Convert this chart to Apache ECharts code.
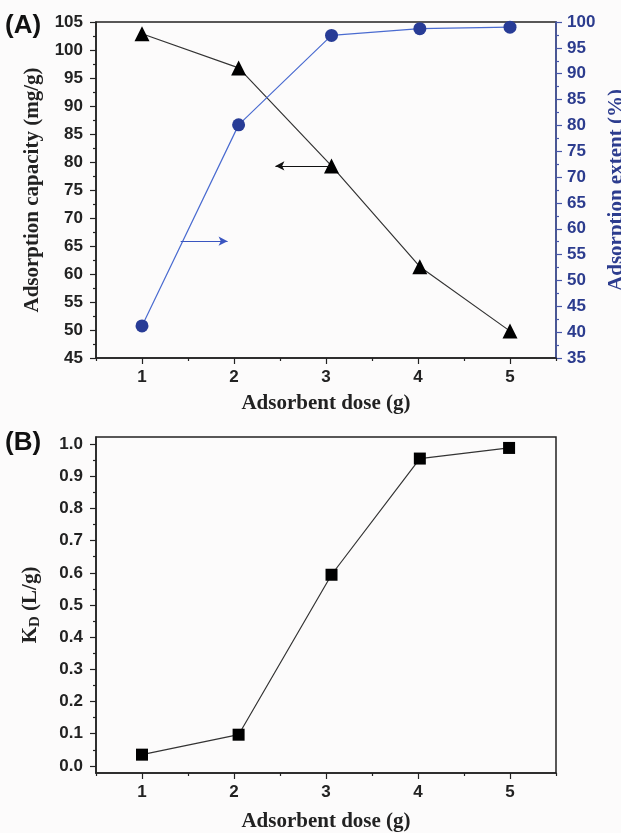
<!DOCTYPE html>
<html lang="en">
<head>
    <meta charset="UTF-8">
    <title>Adsorbent dose</title>
    <script type="text/javascript" src="https://cdn.jsdelivr.net/npm/echarts@6/dist/echarts.min.js"></script>
    <style>
        html, body { margin: 0; padding: 0; background: #fcfbfb; }
    </style>
</head>
<body>
<div id="chart" style="width:621px;height:833px;"></div>
<script type="text/javascript">
    // data
    var doseA = [1, 2.05, 3.06, 4.02, 5];
    var capacity = [102.9, 96.8, 79.3, 61.3, 49.8];
    var extent = [41.2, 80.1, 97.4, 98.7, 99.0];
    var doseB = [1, 2.05, 3.06, 4.02, 4.99];
    var kd = [0.035, 0.097, 0.594, 0.955, 0.988];

    // tick labels
    var doseTicks = [1, 2, 3, 4, 5];
    var doseMinor = [0.5, 1.5, 2.5, 3.5, 4.5, 5.5];
    var kdTicks = [0, 0.1, 0.2, 0.3, 0.4, 0.5, 0.6, 0.7, 0.8, 0.9, 1.0];
    var kdMinor = [0.05, 0.15, 0.25, 0.35, 0.45, 0.55, 0.65, 0.75, 0.85, 0.95];

    // annotation arrows [x0, y0, x1, y1]
    var capArrow = [3.04, 79.3, 2.45, 79.3];
    var extArrow = [1.42, 57.6, 1.93, 57.6];

    var sans = 'Liberation Sans, Arial, sans-serif';
    var serif = 'Liberation Serif, Times New Roman, serif';
    var dark = '#222';
    var navy = '#2c3c8e';

    function pairs(xs, ys) {
        return xs.map(function (x, i) { return [x, ys[i]]; });
    }

    var labelStyle = { fontFamily: sans, fontWeight: 'bold', fontSize: 17, color: dark };
    var nameStyle = { fontFamily: serif, fontWeight: 'bold', fontSize: 21, color: dark };

    function mainX(grid) {
        return {
            type: 'value', gridIndex: grid, min: 0.5, max: 5.5, position: 'bottom',
            name: 'Adsorbent dose (g)', nameLocation: 'middle', nameGap: grid === 0 ? 35 : 38,
            nameTextStyle: nameStyle,
            axisLine: { onZero: false, lineStyle: { color: dark, width: 1.5 } },
            axisTick: { customValues: doseTicks, length: 6, lineStyle: { color: dark, width: 1.2 } },
            axisLabel: Object.assign({ customValues: doseTicks, margin: 11 }, labelStyle),
            splitLine: { show: false }
        };
    }
    function minorX(grid) {
        return {
            type: 'value', gridIndex: grid, min: 0.5, max: 5.5, position: 'bottom',
            axisLine: { show: false, onZero: false },
            axisTick: { customValues: doseMinor, length: 3, lineStyle: { color: dark, width: 1.2 } },
            axisLabel: { show: false },
            splitLine: { show: false }
        };
    }

    var myChart = echarts.init(document.getElementById('chart'));
    var option = {
        backgroundColor: '#fcfbfb',
        animation: false,
        graphic: [
            { type: 'text', left: 5, top: 13, style: { text: '(A)', font: 'bold 26px ' + sans, fill: '#111' } },
            { type: 'text', left: 5, top: 430, style: { text: '(B)', font: 'bold 26px ' + sans, fill: '#111' } }
        ],
        grid: [
            { left: 96, right: 65, top: 22, height: 336, outerBoundsMode: 'none', show: true, borderColor: dark, borderWidth: 1.5, backgroundColor: 'transparent' },
            { left: 96, right: 65, top: 437, bottom: 60, outerBoundsMode: 'none', show: true, borderColor: dark, borderWidth: 1.5, backgroundColor: 'transparent' }
        ],
        xAxis: [mainX(0), minorX(0), mainX(1), minorX(1)],
        yAxis: [
            {
                type: 'value', gridIndex: 0, min: 45, max: 105, interval: 5,
                name: 'Adsorption capacity (mg/g)', nameLocation: 'middle', nameGap: 53,
                nameTextStyle: nameStyle,
                axisLine: { show: true, onZero: false, lineStyle: { color: dark, width: 1.5 } },
                axisTick: { length: 6, lineStyle: { color: dark, width: 1.2 } },
                minorTick: { show: true, splitNumber: 2, length: 3, lineStyle: { color: dark, width: 1.2 } },
                axisLabel: Object.assign({ margin: 13 }, labelStyle),
                splitLine: { show: false }
            },
            {
                type: 'value', gridIndex: 0, position: 'right', min: 35, max: 100, interval: 5,
                name: 'Adsorption extent (%)', nameLocation: 'middle', nameGap: 39,
                nameTextStyle: Object.assign({}, nameStyle, { color: navy }),
                axisLine: { show: true, onZero: false, lineStyle: { color: '#4657a8', width: 1.5 } },
                axisTick: { length: 6, lineStyle: { color: '#4657a8', width: 1.2 } },
                minorTick: { show: true, splitNumber: 2, length: 3, lineStyle: { color: '#4657a8', width: 1.2 } },
                axisLabel: Object.assign({ margin: 11 }, labelStyle, { color: navy }),
                splitLine: { show: false }
            },
            {
                type: 'value', gridIndex: 1, min: -0.022, max: 1.022, position: 'left',
                name: '{k|K}{d|D}{k| (L/g)}', nameLocation: 'middle', nameGap: 53,
                nameTextStyle: Object.assign({}, nameStyle, {
                    rich: {
                        k: { fontFamily: serif, fontWeight: 'bold', fontSize: 21, color: dark },
                        d: { fontFamily: serif, fontWeight: 'bold', fontSize: 15, color: dark, padding: [9, 0, 0, 0] }
                    }
                }),
                axisLine: { show: true, onZero: false, lineStyle: { color: dark, width: 1.5 } },
                axisTick: { customValues: kdTicks, length: 6, lineStyle: { color: dark, width: 1.2 } },
                axisLabel: Object.assign({
                    customValues: kdTicks, margin: 13,
                    formatter: function (v) { return v.toFixed(1); }
                }, labelStyle),
                splitLine: { show: false }
            },
            {
                type: 'value', gridIndex: 1, min: -0.022, max: 1.022, position: 'left',
                axisLine: { show: false, onZero: false },
                axisTick: { customValues: kdMinor, length: 3, lineStyle: { color: dark, width: 1.2 } },
                axisLabel: { show: false },
                splitLine: { show: false }
            }
        ],
        series: [
            {
                name: 'capacity', type: 'line', xAxisIndex: 0, yAxisIndex: 0,
                data: pairs(doseA, capacity),
                symbol: 'triangle', symbolSize: 15,
                lineStyle: { color: '#333', width: 1.2 },
                itemStyle: { color: '#000' },
                markLine: {
                    silent: true, symbol: ['none', 'arrow'], symbolSize: [7, 9],
                    lineStyle: { color: '#111', width: 1.2, type: 'solid' },
                    label: { show: false },
                    data: [[{ coord: [capArrow[0], capArrow[1]] }, { coord: [capArrow[2], capArrow[3]] }]]
                }
            },
            {
                name: 'extent', type: 'line', xAxisIndex: 0, yAxisIndex: 1,
                data: pairs(doseA, extent),
                symbol: 'circle', symbolSize: 13,
                lineStyle: { color: '#4a6bd0', width: 1.2 },
                itemStyle: { color: '#283c96' },
                markLine: {
                    silent: true, symbol: ['none', 'arrow'], symbolSize: [7, 9],
                    lineStyle: { color: '#3a55c0', width: 1.2, type: 'solid' },
                    label: { show: false },
                    data: [[{ coord: [extArrow[0], extArrow[1]] }, { coord: [extArrow[2], extArrow[3]] }]]
                }
            },
            {
                name: 'KD', type: 'line', xAxisIndex: 2, yAxisIndex: 2,
                data: pairs(doseB, kd),
                symbol: 'rect', symbolSize: 12,
                lineStyle: { color: '#333', width: 1.2 },
                itemStyle: { color: '#000' }
            }
        ]
    };
    myChart.setOption(option);
</script>
</body>
</html>
